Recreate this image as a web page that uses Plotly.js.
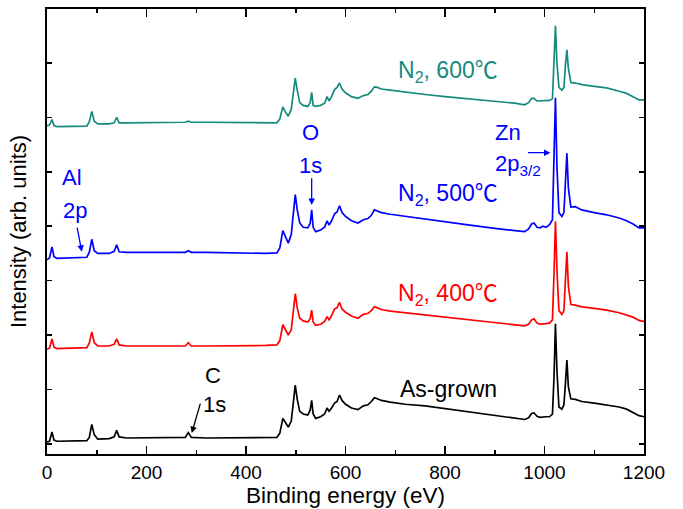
<!DOCTYPE html>
<html>
<head>
<meta charset="utf-8">
<script src="https://cdn.plot.ly/plotly-3.0.1.min.js"></script>
<style>html,body{margin:0;padding:0;background:#fff;}#chart{width:683px;height:509px;}</style>
</head>
<body>
<div id="chart"></div>
<script>
// Binding energy grid (eV)
const energy = [
  0, 5, 10, 14, 20, 50, 80, 85, 90, 95,
  102, 125, 135, 140, 145, 160, 200, 250, 278, 284,
  290, 320, 380, 440, 462, 468, 474, 479, 485, 491,
  496, 499, 503, 508, 515, 524, 529, 532, 535, 540,
  550, 558, 563, 567, 572, 578, 583, 588, 593, 600,
  612, 625, 636, 645, 652, 658, 664, 672, 690, 720,
  760, 800, 850, 900, 940, 960, 968, 974, 979, 985,
  991, 997, 1003, 1010, 1016, 1019, 1022, 1025, 1029, 1035,
  1039, 1042, 1045, 1048, 1053, 1062, 1075, 1100, 1125, 1150,
  1165, 1178, 1190, 1200
];
// Stacked intensities (arb. units, offset)
const asGrown = [
  0.04, 0.05, 0.22, 0.07, 0.05, 0.05, 0.06, 0.12, 0.36, 0.17,
  0.09, 0.10, 0.13, 0.25, 0.13, 0.11, 0.11, 0.11, 0.12, 0.21,
  0.12, 0.11, 0.11, 0.12, 0.12, 0.20, 0.47, 0.40, 0.31, 0.42,
  0.85, 1.08, 0.82, 0.60, 0.55, 0.53, 0.62, 0.80, 0.55, 0.47,
  0.50, 0.55, 0.66, 0.60, 0.66, 0.75, 0.78, 0.90, 0.80, 0.73,
  0.66, 0.63, 0.70, 0.72, 0.78, 0.85, 0.83, 0.80, 0.77, 0.73,
  0.70, 0.65, 0.58, 0.53, 0.48, 0.45, 0.48, 0.56, 0.57, 0.51,
  0.49, 0.50, 0.50, 0.50, 0.55, 1.20, 2.21, 1.35, 0.68, 0.64,
  0.72, 1.10, 1.54, 1.05, 0.83, 0.82, 0.78, 0.75, 0.72, 0.68,
  0.64, 0.58, 0.52, 0.50
];
const n2_400 = [
  1.74, 1.76, 1.93, 1.78, 1.75, 1.76, 1.77, 1.85, 2.06, 1.86,
  1.80, 1.80, 1.83, 1.93, 1.82, 1.80, 1.80, 1.80, 1.80, 1.86,
  1.80, 1.80, 1.80, 1.81, 1.82, 1.90, 2.19, 2.10, 2.00, 2.10,
  2.50, 2.76, 2.50, 2.31, 2.26, 2.24, 2.30, 2.46, 2.24, 2.18,
  2.20, 2.25, 2.34, 2.28, 2.36, 2.48, 2.50, 2.60, 2.48, 2.42,
  2.35, 2.31, 2.38, 2.40, 2.45, 2.52, 2.50, 2.47, 2.44, 2.41,
  2.37, 2.34, 2.29, 2.24, 2.20, 2.17, 2.20, 2.28, 2.30, 2.22,
  2.20, 2.20, 2.21, 2.22, 2.28, 3.10, 4.09, 3.20, 2.45, 2.38,
  2.45, 3.00, 3.53, 2.90, 2.56, 2.55, 2.52, 2.49, 2.46, 2.41,
  2.36, 2.33, 2.27, 2.25
];
const n2_500 = [
  3.38, 3.42, 3.62, 3.44, 3.41, 3.42, 3.43, 3.52, 3.76, 3.55,
  3.50, 3.50, 3.54, 3.66, 3.53, 3.52, 3.52, 3.53, 3.52, 3.55,
  3.52, 3.52, 3.51, 3.50, 3.51, 3.60, 3.92, 3.82, 3.69, 3.85,
  4.30, 4.58, 4.30, 4.06, 3.98, 3.97, 4.05, 4.30, 3.98, 3.90,
  3.93, 3.98, 4.10, 4.02, 4.10, 4.23, 4.26, 4.375, 4.25, 4.18,
  4.10, 4.06, 4.12, 4.14, 4.20, 4.30, 4.28, 4.25, 4.22, 4.18,
  4.13, 4.08, 4.02, 3.96, 3.92, 3.90, 3.95, 4.04, 4.06, 3.98,
  3.97, 4.00, 3.98, 4.03, 4.12, 5.20, 6.36, 5.10, 4.25, 4.18,
  4.25, 4.80, 5.34, 4.70, 4.35, 4.36, 4.30, 4.25, 4.21, 4.15,
  4.10, 4.04, 3.97, 3.97
];
const n2_600 = [
  5.84, 5.86, 5.96, 5.85, 5.83, 5.83, 5.84, 5.92, 6.11, 5.93,
  5.88, 5.88, 5.90, 6.00, 5.90, 5.90, 5.90, 5.91, 5.91, 5.93,
  5.91, 5.91, 5.90, 5.89, 5.90, 5.97, 6.19, 6.10, 6.02, 6.15,
  6.50, 6.72, 6.50, 6.27, 6.22, 6.20, 6.27, 6.46, 6.22, 6.20,
  6.22, 6.26, 6.38, 6.30, 6.38, 6.51, 6.55, 6.63, 6.52, 6.45,
  6.38, 6.35, 6.40, 6.42, 6.48, 6.56, 6.55, 6.52, 6.50, 6.46,
  6.42, 6.38, 6.34, 6.30, 6.26, 6.23, 6.27, 6.35, 6.35, 6.30,
  6.30, 6.31, 6.30, 6.31, 6.34, 7.00, 7.68, 7.00, 6.55, 6.50,
  6.55, 6.95, 7.24, 6.90, 6.64, 6.63, 6.60, 6.57, 6.54, 6.48,
  6.44, 6.38, 6.32, 6.32
];
const seriesNames = ["As-grown", "N<sub>2</sub>, 400℃", "N<sub>2</sub>, 500℃", "N<sub>2</sub>, 600℃"];
const seriesData = [asGrown, n2_400, n2_500, n2_600];
const seriesColors = ["#000000", "#ff0000", "#0000ff", "#168a7e"];
const labelY = [1.01, 2.74, 4.58, 6.84];
const labelX = [807, 807, 807, 807];

const FONT = "Arial, 'Liberation Sans', 'Noto Sans CJK SC', sans-serif";

const traces = seriesData.map((v, i) => ({
  x: energy, y: v, type: "scatter", mode: "lines",
  line: {color: seriesColors[i], width: 1.7},
  name: seriesNames[i], showlegend: false, hoverinfo: "skip"
}));

const annotations = seriesNames.map((n, i) => ({
  x: labelX[i], y: labelY[i], xref: "x", yref: "y", text: n, showarrow: false,
  font: {family: FONT, size: 23, color: seriesColors[i]}
}));

function lab(x, y, text, color) {
  return {x: x, y: y, xref: "x", yref: "y", text: text, showarrow: false,
    font: {family: FONT, size: 22, color: color}};
}
function arr(x0, y0, x1, y1, color) {
  return {x: x1, y: y1, ax: x0, ay: y0, xref: "x", yref: "y", axref: "x", ayref: "y",
    text: "", showarrow: true, arrowhead: 2, arrowsize: 1, arrowwidth: 1.3, arrowcolor: color};
}
annotations.push(
  lab(530, 5.72, "O", "#0000ff"),
  lab(530, 5.11, "1s", "#0000ff"),
  arr(532, 4.91, 532, 4.39, "#0000ff"),
  lab(926, 5.72, "Zn", "#0000ff"),
  lab(946, 5.13, "2p<sub>3/2</sub>", "#0000ff"),
  arr(964, 5.35, 1012, 5.35, "#0000ff"),
  lab(50, 4.89, "Al", "#0000ff"),
  lab(56, 4.29, "2p", "#0000ff"),
  arr(60, 4.0, 70, 3.53, "#0000ff"),
  lab(333, 1.25, "C", "#000000"),
  lab(337, 0.72, "1s", "#000000"),
  arr(309, 0.77, 291, 0.20, "#000000")
);

const layout = {
  width: 683, height: 509,
  margin: {l: 47, r: 39, t: 9, b: 55},
  paper_bgcolor: "#fff", plot_bgcolor: "#fff",
  font: {family: FONT, color: "#000"},
  xaxis: {
    range: [0, 1200], showgrid: false, zeroline: false,
    showline: true, linecolor: "#000", linewidth: 2, mirror: "ticks",
    ticks: "inside", ticklen: 8, tickwidth: 1.5, tickcolor: "#000",
    tick0: 0, dtick: 200,
    minor: {ticks: "inside", ticklen: 4, tickwidth: 1.5, dtick: 100, tickcolor: "#000", showgrid: false},
    tickfont: {family: FONT, size: 19, color: "#000"},
    title: {text: "Binding energy (eV)", font: {family: FONT, size: 22.5, color: "#000"}, standoff: 3}
  },
  yaxis: {
    range: [-0.184, 7.99], showgrid: false, zeroline: false,
    showline: true, linecolor: "#000", linewidth: 2, mirror: "ticks",
    ticks: "inside", ticklen: 5, tickwidth: 1.5, tickcolor: "#000",
    tick0: 0, dtick: 1, showticklabels: false,
    title: {text: "Intensity (arb. units)", font: {family: FONT, size: 22, color: "#000"}, standoff: 12}
  },
  annotations: annotations
};

Plotly.newPlot("chart", traces, layout, {displayModeBar: false, staticPlot: true});
</script>
</body>
</html>
